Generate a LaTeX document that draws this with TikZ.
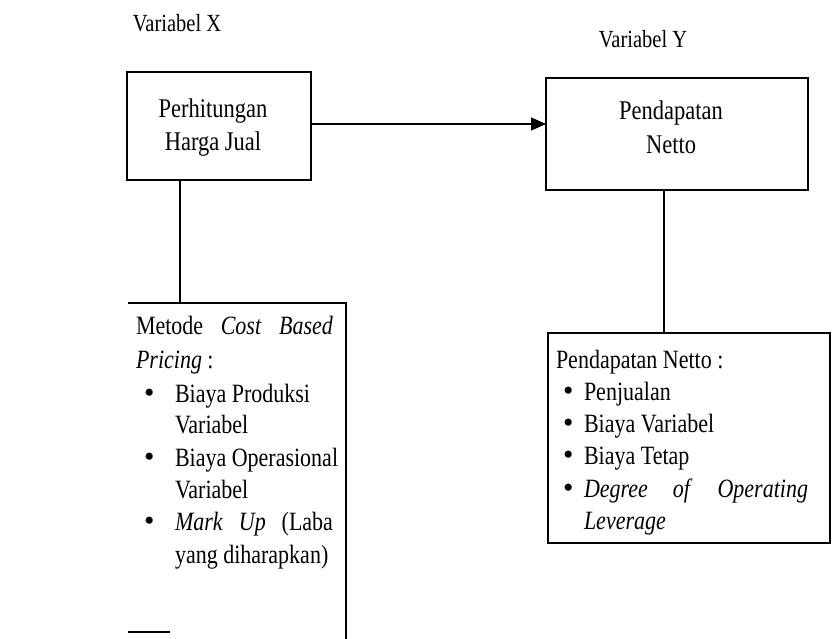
\documentclass[tikz,border=0pt]{standalone}
\usepackage{fontspec}
\setmainfont{Liberation Serif}
\usetikzlibrary{arrows.meta,calc}
\newcommand{\tallx}[1]{\scalebox{1}[1.2]{#1}}
\newcommand{\bigdot}{\scalebox{1.35}{\textbullet}}
\begin{document}
\begin{tikzpicture}[x=1pt,y=-1pt,
  every node/.style={inner sep=0pt, outer sep=0pt},
  edge/.style={line width=1.4pt, black},
  item/.style={anchor=base west, font=\fontsize{22}{26}\selectfont},
  ctext/.style={anchor=base, font=\fontsize{22.5}{26}\selectfont},
  lbl/.style={anchor=base, font=\fontsize{20.5}{24}\selectfont}]
\useasboundingbox (0,0) rectangle (832,639);

% labels
\node[lbl] (vx) at (177,32) {\tallx{Variabel X}};
\node[lbl] (vy) at (643,48) {\tallx{Variabel Y}};

% top boxes
\node[draw, edge, minimum width=184pt, minimum height=108pt] (hj) at (219,126) {};
\node[ctext] (hj1) at (213,118) {\tallx{Perhitungan}};
\node[ctext] (hj2) at (213,151) {\tallx{Harga Jual}};
\node[draw, edge, minimum width=262pt, minimum height=112pt] (pn) at (677,134) {};
\node[ctext] (pn1) at (671,120) {\tallx{Pendapatan}};
\node[ctext] (pn2) at (671,154) {\tallx{Netto}};
\draw[edge, -{Triangle[length=15pt,width=13pt]}] ($(hj.east)+(0,-2)$) -- ($(hj.east -| pn.west)+(0,-2)$);

% bottom-left box (visible edges only)
\node[minimum width=218pt, minimum height=336pt] (cb) at (237,471) {};
\draw[edge] (cb.north west) -- (cb.north east) -- (cb.south east);
\coordinate (cbf) at ($(cb.south west)+(0,-7)$);
\draw[edge] (cbf) -- ++(42,0);

% bottom-right box
\node[draw, edge, minimum width=282pt, minimum height=210pt] (pb) at (689,438) {};

% connectors
\coordinate (p1) at ($(hj.south west)!0.288!(hj.south east)$);
\draw[edge] (p1) -- (p1 |- cb.north);
\coordinate (p2) at ($(pn.south west)!0.45!(pn.south east)$);
\draw[edge] (p2) -- (p2 |- pb.north);

% left list
\node[item] (l1) at (136,334) {\tallx{\makebox[197pt][s]{Metode\hfill\textit{Cost}\hfill\textit{Based}}}};
\node[item] (l2) at (136,368) {\tallx{\textit{Pricing} :}};
\node[item] (lb1) at (144,402) {\bigdot};
\node[item] (l3) at (175,402) {\tallx{Biaya Produksi}};
\node[item] (l4) at (175,433) {\tallx{Variabel}};
\node[item] (lb2) at (144,466) {\bigdot};
\node[item] (l5) at (175,466) {\tallx{Biaya Operasional}};
\node[item] (l6) at (175,498) {\tallx{Variabel}};
\node[item] (lb3) at (144,530) {\bigdot};
\node[item] (l7) at (175,530) {\tallx{\makebox[158pt][s]{\textit{Mark}\hfill\textit{Up}\hfill(Laba}}};
\node[item] (l8) at (175,563) {\tallx{yang diharapkan)}};

% right list
\node[item] (r1) at (556,368) {\tallx{Pendapatan Netto :}};
\node[item] (rb1) at (563,400) {\bigdot};
\node[item] (r2) at (584,400) {\tallx{Penjualan}};
\node[item] (rb2) at (563,432) {\bigdot};
\node[item] (r3) at (584,432) {\tallx{Biaya Variabel}};
\node[item] (rb3) at (563,464) {\bigdot};
\node[item] (r4) at (584,464) {\tallx{Biaya Tetap}};
\node[item] (rb4) at (563,497) {\bigdot};
\node[item] (r5) at (584,497) {\tallx{\makebox[224pt][s]{\textit{Degree}\hfill\textit{of}\hfill\textit{Operating}}}};
\node[item] (r6) at (584,529) {\tallx{\textit{Leverage}}};
\end{tikzpicture}
\end{document}
